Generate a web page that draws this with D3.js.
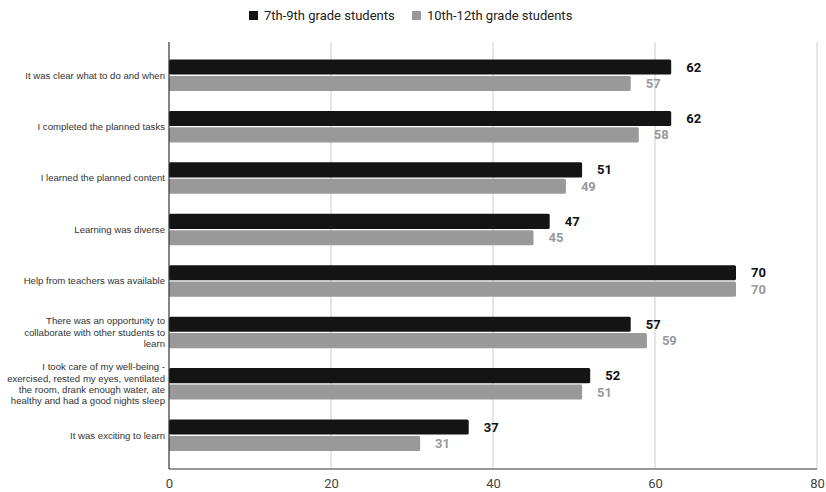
<!DOCTYPE html>
<html>
<head>
<meta charset="utf-8">
<script src="https://cdn.jsdelivr.net/npm/d3@7"></script>
<style>
  html, body { margin: 0; padding: 0; background: #fff; }
  svg { display: block; }
</style>
</head>
<body>
<svg id="chart" width="826" height="492"></svg>
<script>
// Survey statements (line breaks mark how each label wraps)
const categories = [
  "It was clear what to do and when",
  "I completed the planned tasks",
  "I learned the planned content",
  "Learning was diverse",
  "Help from teachers was available",
  "There was an opportunity to\ncollaborate with other students to\nlearn",
  "I took care of my well-being -\nexercised, rested my eyes, ventilated\nthe room, drank enough water, ate\nhealthy and had a good nights sleep",
  "It was exciting to learn"
];
const seriesNames = ["7th-9th grade students", "10th-12th grade students"];
const grade7to9 = [62, 62, 51, 47, 70, 57, 52, 37];
const grade10to12 = [57, 58, 49, 45, 70, 59, 51, 31];
const xTicks = [0, 20, 40, 60, 80];

const colors = ["#141414", "#999999"];
const labelColors = ["#111111", "#999999"];

const svg = d3.select("#chart");
const plotLeft = 169, plotRight = 817, plotTop = 42, plotBottom = 469;

const x = d3.scaleLinear().domain([0, 80]).range([plotLeft, plotRight]);
const y = d3.scaleBand().domain(categories).range([59.5, 451]).paddingInner(0.3875).paddingOuter(0);
const sub = d3.scaleBand().domain([0, 1]).range([0, y.bandwidth()]).paddingInner(0.08);

// Vertical gridlines
svg.append("g")
  .selectAll("line")
  .data(xTicks.filter(t => t > 0))
  .join("line")
  .attr("x1", d => x(d)).attr("x2", d => x(d))
  .attr("y1", plotTop).attr("y2", plotBottom)
  .attr("stroke", "#cccccc").attr("stroke-width", 1);

// Bars
const groups = svg.append("g")
  .selectAll("g")
  .data(categories.map((c, i) => ({ c, vals: [grade7to9[i], grade10to12[i]] })))
  .join("g")
  .attr("transform", d => `translate(0,${y(d.c)})`);

groups.selectAll("rect")
  .data(d => d.vals.map((v, k) => ({ v, k })))
  .join("rect")
  .attr("x", x(0))
  .attr("y", d => sub(d.k))
  .attr("width", d => x(d.v) - x(0))
  .attr("height", sub.bandwidth())
  .attr("rx", 1.5)
  .attr("fill", d => colors[d.k]);

groups.selectAll("text.val")
  .data(d => d.vals.map((v, k) => ({ v, k })))
  .join("text")
  .attr("class", "val")
  .attr("x", d => x(d.v) + 15)
  .attr("y", d => sub(d.k) + sub.bandwidth() / 2)
  .attr("dy", "0.35em")
  .attr("font-family", "Roboto, Arial, sans-serif")
  .attr("font-size", 13)
  .attr("font-weight", "bold")
  .attr("fill", d => labelColors[d.k])
  .text(d => d.v);

// Category labels
const lineH = 11.3;
svg.append("g")
  .selectAll("text")
  .data(categories)
  .join("text")
  .attr("text-anchor", "end")
  .attr("font-family", "'Liberation Sans', Arial, sans-serif")
  .attr("font-size", 9.6)
  .attr("fill", "#333333")
  .each(function (d) {
    const lines = d.split("\n");
    const cy = y(d) + y.bandwidth() / 2;
    const t = d3.select(this);
    lines.forEach((ln, i) => {
      t.append("tspan")
        .attr("x", 165)
        .attr("y", cy + (i - (lines.length - 1) / 2) * lineH)
        .attr("dy", "0.35em")
        .text(ln);
    });
  });

// Axis lines
svg.append("line")
  .attr("x1", plotLeft).attr("x2", plotLeft).attr("y1", plotTop).attr("y2", plotBottom)
  .attr("stroke", "#333333").attr("stroke-width", 1.2);
svg.append("line")
  .attr("x1", plotLeft).attr("x2", plotRight).attr("y1", plotBottom).attr("y2", plotBottom)
  .attr("stroke", "#333333").attr("stroke-width", 1.2);

// X tick labels
const xAxis = d3.axisBottom(x).tickValues(xTicks).tickSize(0).tickPadding(10);
const gx = svg.append("g").attr("transform", `translate(0,${plotBottom})`).call(xAxis);
gx.select(".domain").remove();
gx.selectAll("text")
  .attr("font-family", "Roboto, Arial, sans-serif")
  .attr("font-size", 13)
  .attr("fill", "#444444");

// Legend
const legend = svg.append("g").attr("font-family", "Roboto, Arial, sans-serif").attr("font-size", 13);
const legendItems = [{ x: 249, k: 0 }, { x: 412, k: 1 }];
legendItems.forEach(item => {
  legend.append("rect")
    .attr("x", item.x).attr("y", 11).attr("width", 9).attr("height", 9)
    .attr("fill", colors[item.k]);
  legend.append("text")
    .attr("x", item.x + 15).attr("y", 15.5).attr("dy", "0.35em")
    .attr("fill", "#222222")
    .text(seriesNames[item.k]);
});
</script>
</body>
</html>
